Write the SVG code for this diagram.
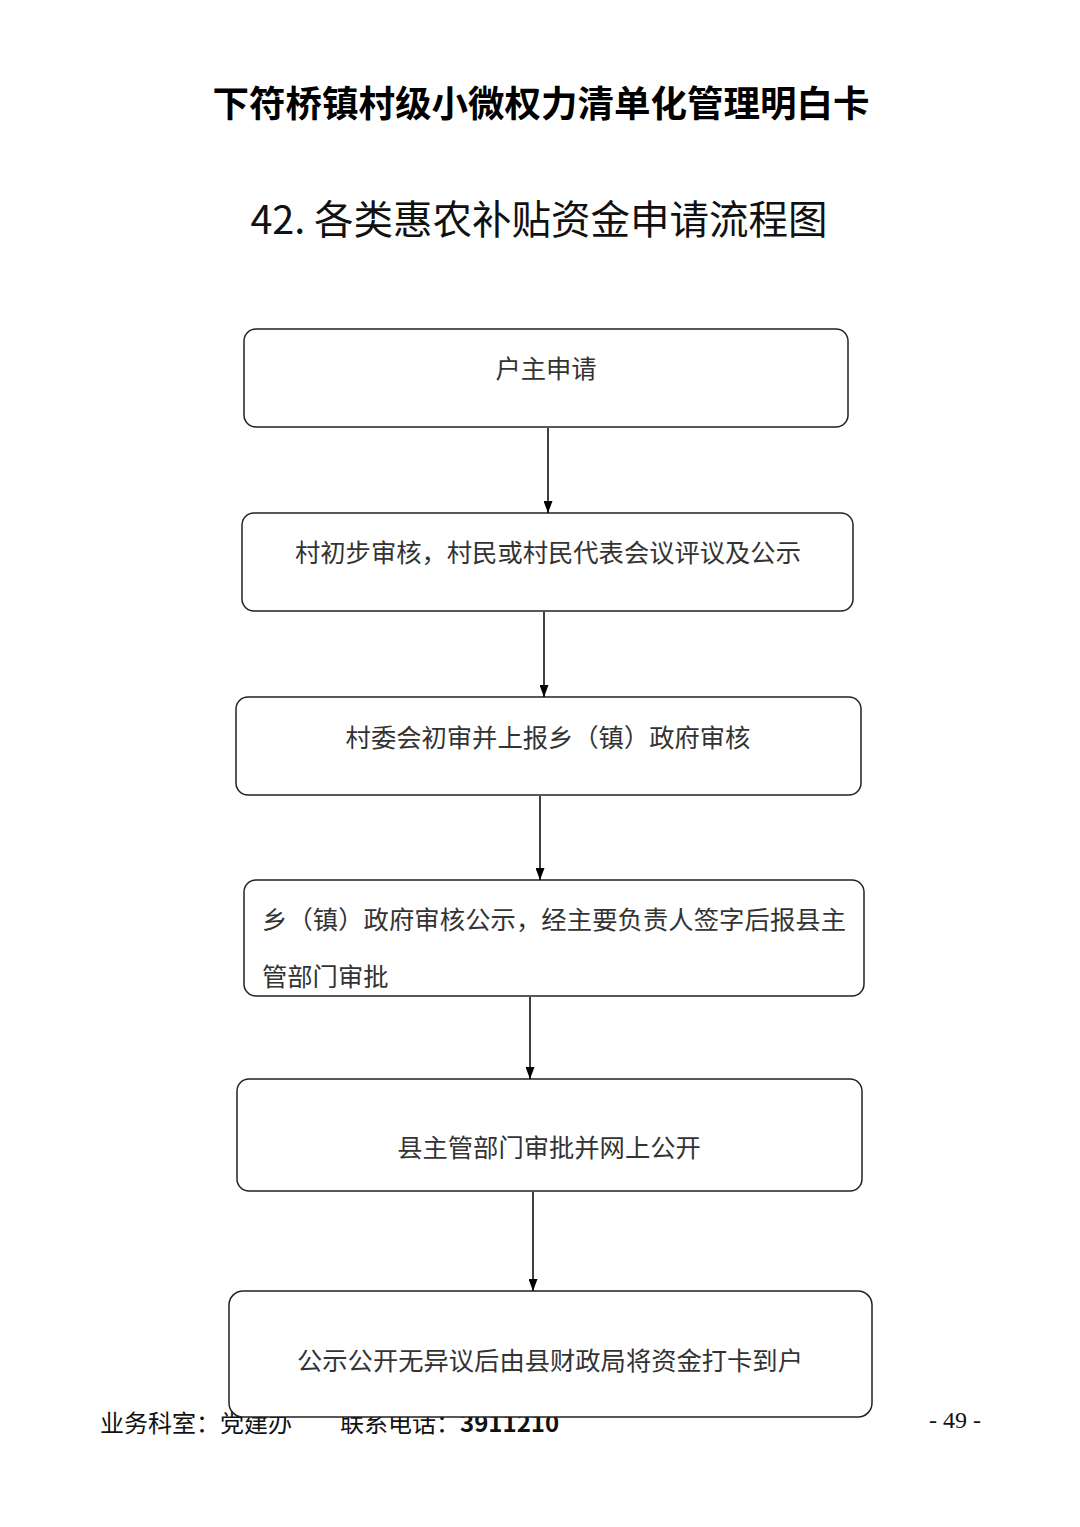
<svg xmlns="http://www.w3.org/2000/svg" width="1080" height="1527" viewBox="0 0 1080 1527">
<defs>
<marker id="arr" markerWidth="12" markerHeight="9" refX="12" refY="4.5" orient="auto" markerUnits="userSpaceOnUse">
<path d="M0,0 L12,4.5 L0,9 Z" fill="#000"/>
</marker>
<style>
.box{fill:#fff;stroke:#222;stroke-width:1.5}
.t{font-family:"Noto Sans CJK SC","Liberation Serif",serif;font-size:25.3px;fill:#333;text-anchor:middle;dominant-baseline:central}
.tl{font-family:"Noto Sans CJK SC","Liberation Serif",serif;font-size:25.3px;fill:#333;dominant-baseline:central}
.c{stroke:#000;stroke-width:1.5;fill:none;marker-end:url(#arr)}
</style>
</defs>
<rect width="1080" height="1527" fill="#fff"/>
<text x="541" y="101" font-family="'Noto Sans CJK SC',sans-serif" font-weight="bold" font-size="36.5" text-anchor="middle" dominant-baseline="central" fill="#000">下符桥镇村级小微权力清单化管理明白卡</text>
<text x="539" y="216" font-family="'Noto Sans CJK SC',sans-serif" font-size="39.5" text-anchor="middle" dominant-baseline="central" fill="#111">42. 各类惠农补贴资金申请流程图</text>
<g id="footer">
<text x="100" y="1421" font-family="'Noto Sans CJK SC',sans-serif" font-size="24" dominant-baseline="central" fill="#111">业务科室：党建办</text>
<text x="340" y="1421" font-family="'Noto Sans CJK SC',sans-serif" font-size="24" dominant-baseline="central" fill="#111">联系电话：<tspan font-weight="bold">3911210</tspan></text>
<text x="955" y="1420" font-family="'Liberation Serif',serif" font-size="24" text-anchor="middle" dominant-baseline="central" fill="#111">- 49 -</text>
</g>
<g id="n1"><rect class="box" x="244" y="329" width="604" height="98" rx="12"/><text class="t" x="546" y="367">户主申请</text></g>
<g id="n2"><rect class="box" x="242" y="513" width="611" height="98" rx="12"/><text class="t" x="548" y="551">村初步审核，村民或村民代表会议评议及公示</text></g>
<g id="n3"><rect class="box" x="236" y="697" width="625" height="98" rx="12"/><text class="t" x="548" y="736">村委会初审并上报乡（镇）政府审核</text></g>
<g id="n4"><rect class="box" x="244" y="880" width="620" height="116" rx="12"/><text class="tl" x="262" y="918" textLength="584">乡（镇）政府审核公示，经主要负责人签字后报县主</text><text class="tl" x="262" y="975">管部门审批</text></g>
<g id="n5"><rect class="box" x="237" y="1079" width="625" height="112" rx="12"/><text class="t" x="549" y="1146">县主管部门审批并网上公开</text></g>
<g id="n6"><rect class="box" x="229" y="1291" width="643" height="126" rx="14"/><text class="t" x="550" y="1359">公示公开无异议后由县财政局将资金打卡到户</text></g>
<g id="connectors">
<line class="c" x1="548" y1="428" x2="548" y2="513"/>
<line class="c" x1="544" y1="612" x2="544" y2="697"/>
<line class="c" x1="540" y1="796" x2="540" y2="880"/>
<line class="c" x1="530" y1="997" x2="530" y2="1079"/>
<line class="c" x1="533" y1="1192" x2="533" y2="1291"/>
</g>
</svg>
